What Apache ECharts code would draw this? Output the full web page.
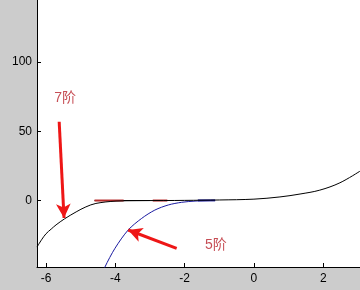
<!DOCTYPE html>
<html><head><meta charset="utf-8">
<script src="https://cdn.jsdelivr.net/npm/echarts@6/dist/echarts.min.js"></script>
<style>html,body{margin:0;padding:0;background:#cccccc;}#c{width:360px;height:290px;}</style>
</head><body><div id="c"></div>
<script>
// x tick labels / y tick labels
var xTicks = [-6, -4, -2, 0, 2];
var yTicks = [0, 50, 100];
// 7th order curve (black)
var order7X = [-6.26, -6.13, -6.0, -5.85, -5.71, -5.47, -5.13, -4.85, -4.56, -3.98, -3.40, -2.6, -2.0, -1.0, 0.0, 0.75, 1.33, 1.9, 2.48, 3.06];
var order7Y = [-33.6, -28.4, -24.0, -20.6, -17.6, -13.3, -8.2, -4.6, -2.1, -0.4, -0.1, 0.0, 0.1, 0.4, 1.0, 2.6, 4.7, 7.5, 12.8, 21.2];
// 5th order curve (blue)
var order5X = [-4.35, -4.30, -4.01, -3.63, -3.24, -2.86, -2.47, -2.09, -1.70, -1.12];
var order5Y = [-52.0, -48.0, -34.5, -21.3, -12.9, -6.9, -3.2, -1.3, -0.4, 0.1];
// horizontal reference line at zero (black) and red segments
var zeroLineX = [-4.6, -3.0];
var zeroLineY = [0, 0];
var redSegA_X = [-4.6, -3.76];
var redSegB_X = [-2.92, -2.50];
var redSegY = [0, 0];
var blueSegX = [-1.62, -1.12];
var blueSegY = [0.1, 0.1];
// annotations
var labels = ['7阶', '5阶'];
var labelX = [-5.45, -1.10];
var labelY = [74, -32.5];
var arrowTailX = [-5.62, -2.23];
var arrowTailY = [56.9, -34.5];
var arrowTipX = [-5.48, -3.63];
var arrowTipY = [-12.6, -21.3];

function zip(a, b) { return a.map(function (v, i) { return [v, b[i]]; }); }

var chart = echarts.init(document.getElementById('c'), null, {renderer: 'canvas'});
var font = '"Liberation Sans", Arial, sans-serif';
var cjk = '"Liberation Sans", "Noto Sans CJK SC", sans-serif';

var arrowData = arrowTailX.map(function (x, i) {
  return [{coord: [x, arrowTailY[i]], symbol: 'none'}, {coord: [arrowTipX[i], arrowTipY[i]], symbol: 'arrow'}];
});
var labelData = labels.map(function (t, i) { return {value: [labelX[i], labelY[i]], name: t}; });

chart.setOption({
  backgroundColor: '#cccccc',
  animation: false,
  grid: {left: 37, right: 0, top: 0, bottom: 23, show: true, backgroundColor: '#ffffff', borderWidth: 0},
  xAxis: {
    type: 'value', min: -6.26, max: 3.06,
    axisLine: {show: true, onZero: false, lineStyle: {color: '#000', width: 1}},
    axisTick: {show: true, inside: true, length: 4, customValues: xTicks, lineStyle: {color: '#000'}},
    axisLabel: {customValues: xTicks, color: '#000', fontSize: 12, fontFamily: font, margin: 6},
    splitLine: {show: false}
  },
  yAxis: {
    type: 'value', min: -48, max: 144.8,
    axisLine: {show: true, onZero: false, lineStyle: {color: '#000', width: 1}},
    axisTick: {show: true, inside: true, length: 4, customValues: yTicks, lineStyle: {color: '#000'}},
    axisLabel: {customValues: yTicks, color: '#000', fontSize: 12, fontFamily: font, margin: 5},
    splitLine: {show: false}
  },
  series: [
    {type: 'line', data: zip(zeroLineX, zeroLineY), showSymbol: false, lineStyle: {color: '#000', width: 1}, z: 2, silent: true},
    {type: 'line', data: zip(redSegA_X, redSegY), showSymbol: false, lineStyle: {color: '#b82a2a', width: 2}, z: 3, silent: true},
    {type: 'line', data: zip(redSegB_X, redSegY), showSymbol: false, lineStyle: {color: '#b82a2a', width: 2}, z: 3, silent: true},
    {type: 'line', data: zip(blueSegX, blueSegY), showSymbol: false, lineStyle: {color: '#1a1a9a', width: 2}, z: 3, silent: true},
    {type: 'line', name: '5阶', data: zip(order5X, order5Y), showSymbol: false, smooth: 0.3, clip: true,
      lineStyle: {color: '#1a1aa0', width: 1}, z: 4},
    {type: 'line', name: '7阶', data: zip(order7X, order7Y), showSymbol: false, smooth: 0.35, clip: true,
      lineStyle: {color: '#000', width: 1}, z: 5,
      markLine: {silent: true, symbolSize: [11, 14], label: {show: false},
        lineStyle: {color: '#ee1616', width: 3, type: 'solid'}, data: arrowData}},
    {type: 'scatter', data: labelData, symbolSize: 0, silent: true, z: 6,
      label: {show: true, position: 'inside', formatter: function (p) { return p.name; },
        color: '#b8222a', fontSize: 14, fontFamily: cjk}}
  ]
});
</script></body></html>
